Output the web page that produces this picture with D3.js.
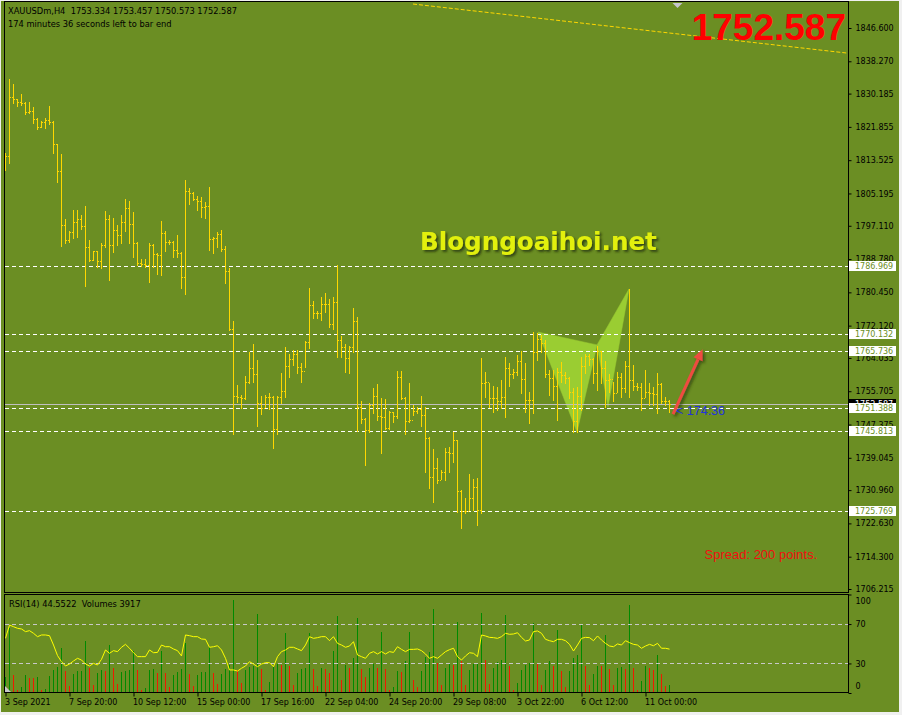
<!DOCTYPE html>
<html><head><meta charset="utf-8">
<script src="https://cdn.jsdelivr.net/npm/d3@7"></script>
<style>
html,body{margin:0;padding:0;background:#f0f0f0;overflow:hidden;}
svg{display:block;}
</style></head><body>
<svg id="c" width="902" height="715"></svg>
<script>
// ---------- DATA ----------
const opens = [
1814.0,1814.6,1829.3,1828.8,1828.1,1827.8,1825.6,1825.8,1823.8,1821.8,
1823.1,1823.6,1823.1,1817.6,1810.8,1797.3,1793.6,1795.6,1798.1,1798.8,
1797.1,1791.8,1788.6,1790.8,1788.3,1792.3,1798.8,1792.3,1796.1,1794.8,
1798.1,1801.6,1797.6,1792.8,1787.8,1787.5,1787.3,1792.3,1790.1,1789.8,
1795.3,1793.1,1793.1,1791.1,1790.3,1784.3,1805.8,1805.3,1803.8,1803.3,
1801.8,1802.1,1793.8,1794.0,1795.1,1791.3,1785.8,1771.3,1754.5,1754.3,
1754.0,1758.0,1761.5,1760.0,1752.8,1751.5,1754.3,1754.3,1746.3,1754.3,
1755.8,1762.0,1763.8,1765.0,1761.8,1760.8,1768.0,1777.3,1775.3,1775.3,
1777.5,1777.5,1772.5,1778.0,1768.5,1766.8,1764.0,1766.8,1773.3,1751.8,
1748.8,1746.0,1752.3,1754.5,1749.5,1749.3,1746.5,1750.5,1749.5,1759.3,
1754.0,1748.3,1748.5,1750.8,1751.3,1749.8,1744.0,1734.2,1736.5,1733.5,
1735.5,1740.5,1740.3,1743.5,1730.7,1725.7,1725.7,1729.0,1731.7,1726.0,
1757.8,1758.0,1754.0,1754.0,1753.3,1754.3,1761.5,1760.0,1760.5,1763.3,
1758.8,1753.5,1753.5,1765.5,1768.8,1767.8,1760.0,1759.0,1757.0,1760.5,
1759.8,1759.0,1755.5,1748.3,1754.5,1762.0,1764.5,1763.8,1760.3,1765.8,
1761.5,1758.5,1758.8,1755.3,1759.3,1756.5,1762.0,1758.5,1757.0,1756.8,
1754.0,1755.5,1755.3,1755.0,1757.5,1753.3,1753.334];
const highs = [
1815.3,1833.8,1832.6,1828.8,1830.1,1828.1,1828.1,1826.8,1824.1,1823.3,
1824.1,1827.1,1823.3,1817.6,1815.1,1798.8,1795.8,1801.1,1801.1,1799.8,
1802.1,1793.6,1790.8,1790.8,1792.8,1800.8,1799.8,1799.1,1797.3,1799.8,
1803.8,1803.3,1800.6,1793.1,1788.8,1788.8,1792.8,1792.6,1790.3,1798.3,
1795.8,1793.6,1793.3,1794.8,1790.6,1808.6,1806.6,1805.6,1804.6,1804.3,
1803.1,1806.8,1794.3,1795.6,1796.1,1792.1,1786.5,1773.3,1757.3,1754.8,
1759.5,1765.5,1767.5,1763.5,1754.5,1754.8,1755.3,1754.5,1754.5,1760.3,
1766.8,1765.0,1766.0,1766.0,1762.8,1768.3,1781.5,1778.3,1775.8,1779.3,
1780.3,1778.8,1779.3,1787.3,1769.5,1767.5,1767.0,1776.5,1774.3,1753.3,
1749.0,1752.8,1756.5,1757.5,1754.0,1753.8,1750.8,1750.5,1760.8,1760.8,
1754.3,1757.8,1752.3,1751.8,1754.5,1751.8,1744.3,1741.3,1739.0,1736.0,
1741.5,1741.8,1745.5,1743.5,1731.0,1729.0,1735.0,1733.7,1734.0,1764.0,
1760.5,1757.8,1757.0,1756.8,1758.5,1764.3,1762.8,1761.3,1764.8,1765.8,
1762.8,1755.5,1770.5,1770.3,1769.8,1768.5,1761.0,1761.0,1761.5,1763.0,
1760.5,1759.3,1756.5,1756.8,1764.3,1765.0,1765.0,1764.0,1767.0,1765.8,
1763.3,1760.0,1758.0,1760.5,1760.3,1763.3,1781.3,1762.3,1757.8,1757.8,
1761.0,1757.8,1756.8,1760.3,1757.8,1754.3,1753.457];
const lows = [
1811.1,1812.8,1827.8,1827.1,1827.3,1825.1,1825.3,1822.8,1821.3,1821.8,
1821.6,1822.6,1815.3,1808.1,1792.1,1792.8,1793.1,1794.1,1794.3,1796.3,
1782.0,1788.3,1788.6,1786.8,1786.5,1791.8,1783.5,1790.6,1792.3,1792.8,
1795.8,1792.8,1789.3,1787.3,1787.0,1786.8,1783.0,1786.8,1785.0,1784.8,
1790.8,1792.6,1789.3,1789.3,1781.5,1780.0,1802.6,1803.6,1801.1,1799.3,
1799.1,1791.1,1790.3,1791.8,1790.8,1782.8,1771.0,1745.0,1753.0,1751.5,
1753.8,1757.8,1758.0,1747.0,1750.0,1751.8,1751.3,1741.5,1745.0,1752.8,
1754.3,1759.3,1762.3,1760.3,1758.0,1761.8,1766.5,1774.0,1774.0,1773.5,
1775.5,1771.8,1771.3,1764.3,1764.3,1760.5,1760.3,1765.5,1745.8,1747.8,
1737.3,1745.5,1750.3,1748.5,1740.3,1746.3,1746.3,1748.0,1749.0,1753.8,
1745.0,1748.0,1749.8,1750.3,1747.0,1735.5,1731.5,1728.0,1732.7,1733.7,
1733.5,1735.5,1738.0,1725.5,1721.5,1725.2,1726.0,1726.0,1722.2,1725.2,
1754.3,1751.8,1750.5,1751.0,1751.5,1749.3,1757.0,1759.0,1759.8,1755.3,
1750.5,1747.8,1750.3,1763.5,1765.5,1759.3,1754.8,1753.5,1748.5,1758.0,
1757.8,1754.0,1745.5,1745.5,1751.0,1760.3,1762.3,1757.8,1756.0,1757.8,
1751.8,1755.5,1753.3,1755.5,1754.3,1755.5,1754.3,1756.0,1756.0,1751.0,
1754.3,1752.3,1752.3,1750.3,1752.8,1752.3,1750.573];
const closes = [
1814.6,1829.3,1828.8,1828.1,1827.8,1825.6,1825.8,1823.8,1821.8,1823.1,
1823.6,1823.1,1817.6,1810.8,1797.3,1793.6,1795.6,1798.1,1798.8,1797.1,
1791.8,1788.6,1790.8,1788.3,1792.3,1798.8,1792.3,1796.1,1794.8,1798.1,
1801.6,1797.6,1792.8,1787.8,1787.5,1787.3,1792.3,1790.1,1789.8,1795.3,
1793.1,1793.1,1791.1,1790.3,1784.3,1805.8,1805.3,1803.8,1803.3,1801.8,
1802.1,1793.8,1794.0,1795.1,1791.3,1785.8,1771.3,1754.5,1754.3,1754.0,
1758.0,1761.5,1760.0,1752.8,1751.5,1754.3,1754.3,1746.3,1754.3,1755.8,
1762.0,1763.8,1765.0,1761.8,1760.8,1768.0,1777.3,1775.3,1775.3,1777.5,
1777.5,1772.5,1778.0,1768.5,1766.8,1764.0,1766.8,1773.3,1751.8,1748.8,
1746.0,1752.3,1754.5,1749.5,1749.3,1746.5,1750.5,1749.5,1759.3,1754.0,
1748.3,1748.5,1750.8,1751.3,1749.8,1744.0,1734.2,1736.5,1733.5,1735.5,
1740.5,1740.3,1743.5,1730.7,1725.7,1725.7,1729.0,1731.7,1726.0,1757.8,
1758.0,1754.0,1754.0,1753.3,1754.3,1761.5,1760.0,1760.5,1763.3,1758.8,
1753.5,1753.5,1765.5,1768.8,1767.8,1760.0,1759.0,1757.0,1760.5,1759.8,
1759.0,1755.5,1748.3,1754.5,1762.0,1764.5,1763.8,1760.3,1765.8,1761.5,
1758.5,1758.8,1755.3,1759.3,1756.5,1762.0,1758.5,1757.0,1756.8,1754.0,
1755.5,1755.3,1755.0,1757.5,1753.3,1753.3,1752.587];
const volumes = [
8775,37050,9750,975,2925,9750,8190,8190,8775,1365,
1755,9165,12675,14625,25740,12090,3510,10725,12090,12285,
29640,14040,3900,11115,12675,12285,27300,14040,4485,11700,
12480,12675,23790,12675,1365,2535,13065,13455,11115,23790,
11115,2925,10140,11700,13455,28275,10335,3315,9750,11700,
11800,26325,11115,4485,10725,13650,15600,53235,13065,5265,
12675,14400,15015,45240,13260,1365,5850,14625,16185,15600,
34125,15015,3900,11115,13260,14040,34515,13455,3510,14235,
13260,11115,23985,44265,7215,15990,14235,19890,43290,13260,
8775,14040,16185,14235,35100,13650,1365,2925,12090,11900,
17940,35100,7215,2925,12285,20475,23400,48360,16965,3900,
14040,17000,15600,40950,18135,3900,12675,16185,16575,46215,
18525,4875,14040,17550,18525,45045,15015,1365,5265,12675,
15600,16965,40365,16965,4290,12675,18135,15015,36075,12090,
2925,12285,19500,21450,39390,15015,3900,10335,15015,15015,
33150,13260,3900,14235,14500,13455,50700,14235,975,6240,
15015,14235,12675,21450,10725,3315,3917];
const rsi = [
55.5,69,67.3,65.7,65,62.3,63.3,60.6,57.2,58.9,
58.9,58.2,48.7,38,31.8,27.4,29.4,32.5,35.2,33.5,
29.4,27.4,30.1,28.4,34.2,43.7,40.3,43,42,46.4,
49.4,45.4,40.9,36.9,36.9,36.9,43.7,40.9,41.2,48.7,
47,47,44.7,43,37.6,58.9,58.2,57.2,57.2,54.8,
54.5,46.4,47,48,43.7,35.2,23.4,23.4,22.3,25.1,
27.4,31.8,29.4,26.7,29.4,30.8,30.8,26.7,36.9,42,
43.7,46.4,46.4,44.7,43,48.7,57.2,55.5,56.2,57.2,
57.2,53.1,57.2,50.4,48.7,46.4,47.7,52.1,38.6,36.9,
35.2,40.3,42,39.6,42,39.6,42,41.2,47,44.3,
42,44.3,44.3,44.7,43,39.6,35.2,36.9,35.2,38.6,
42,44,45.4,36.9,33.5,37.6,40.9,40.3,36.9,58.9,
57.9,56.5,56.2,55.5,57.2,60.6,59.6,59.9,61.2,56.5,
52.8,53.8,62.3,63,60.6,54.5,53.1,52.1,54.5,54.5,
53.1,49.4,42.6,48.7,55.5,56.5,56.2,53.1,57.9,53.8,
50.4,47.7,47,49.8,48.7,53.1,51.1,49.4,48.7,45.4,
47.7,49.4,48,50.4,45.4,45.4,44.55];
const priceTicks = [1846.600,1838.270,1830.185,1821.855,1813.525,1805.195,1797.110,1788.780,1780.450,
  1772.120,1764.035,1755.705,1747.375,1739.045,1730.960,1722.630,1714.300,1706.215];
const levelPrices = [1786.969,1770.132,1765.736,1751.388,1745.813,1725.769];
const bidPrice = 1752.587;
const dateBars = [0,16,32,48,64,80,96,112,128,144,160];
const dateLabels = ["3 Sep 2021","7 Sep 20:00","10 Sep 12:00","15 Sep 00:00","17 Sep 16:00","22 Sep 04:00",
  "24 Sep 20:00","29 Sep 08:00","3 Oct 22:00","6 Oct 12:00","11 Oct 00:00"];
const rsiLevels = [100,70,30,0];
const rsiDashed = [70,30];
const trendLine = [[102,1852.6],[210.75,1840.3]];
const patternA = [[133.25,1770.5],[148,1767.3],[143,1745.5]];
const patternB = [[148,1767.3],[156,1781.3],[150.75,1751.8]];
const arrowPts = [[167,1750.0],[174.4,1766.2]];
const header1 = "XAUUSDm,H4  1753.334 1753.457 1750.573 1752.587";
const header2 = "174 minutes 36 seconds left to bar end";
const rsiHeader = "RSI(14) 44.5522  Volumes 3917";
const timerText = "< 174:36";
const spreadText = "Spread: 200 points.";
const watermark = "Blogngoaihoi.net";

// ---------- SCALES ----------
const n = closes.length;
const BG = "#6B8E23";
const x = d3.scaleLinear().domain([0, n-1]).range([5, 5 + 4*(n-1)]);
const y = d3.scaleLinear().domain([1706.215, 1846.600]).range([589, 28]);
const yr = d3.scaleLinear().domain([0, 100]).range([693, 594.5]);
const yv = d3.scaleLinear().domain([0, 57000]).range([692, 594]);
const FONT = "DejaVu Sans, Verdana, sans-serif";

const svg = d3.select("#c");
const defs = svg.append("defs");
defs.append("clipPath").attr("id","mainClip").append("rect").attr("x",5).attr("y",2).attr("width",843).attr("height",590);
defs.append("clipPath").attr("id","rsiClip").append("rect").attr("x",5).attr("y",595).attr("width",843).attr("height",97);
const f1 = defs.append("filter").attr("id","sh").attr("x","-10%").attr("y","-30%").attr("width","130%").attr("height","170%");
f1.append("feDropShadow").attr("dx",2).attr("dy",2).attr("stdDeviation",1.2).attr("flood-color","#2c3a08").attr("flood-opacity",0.85);
const f2 = defs.append("filter").attr("id","sh2").attr("x","-30%").attr("y","-30%").attr("width","160%").attr("height","160%");
f2.append("feDropShadow").attr("dx",2).attr("dy",2).attr("stdDeviation",1.5).attr("flood-color","#2c3a08").attr("flood-opacity",0.8);

// background
svg.append("rect").attr("x",0).attr("y",0).attr("width",902).attr("height",715).attr("fill","#f0f0f0");
svg.append("rect").attr("x",1).attr("y",1).attr("width",898).attr("height",711).attr("fill",BG);

// ---------- MAIN PANEL ----------
const main = svg.append("g").attr("clip-path","url(#mainClip)");

const pt = d => [x(d[0]), y(d[1])];
[patternA, patternB].forEach(p => {
  main.append("polygon").attr("points", p.map(d => pt(d).join(",")).join(" "))
    .attr("fill","#9ACD32").attr("stroke","#9ACD32").attr("stroke-width",0.5);
});

main.append("line")
  .attr("x1", x(trendLine[0][0])).attr("y1", y(trendLine[0][1]))
  .attr("x2", x(trendLine[1][0])).attr("y2", y(trendLine[1][1]))
  .attr("stroke","#FFD700").attr("stroke-width",1).attr("stroke-dasharray","4,2");

main.selectAll("line.lvl").data(levelPrices).join("line").attr("class","lvl")
  .attr("x1",5).attr("x2",848)
  .attr("y1", d => Math.round(y(d)) + 0.5).attr("y2", d => Math.round(y(d)) + 0.5)
  .attr("stroke","#ffffff").attr("stroke-width",1).attr("stroke-dasharray","4,3")
  .attr("shape-rendering","crispEdges");

main.append("line").attr("x1",5).attr("x2",848)
  .attr("y1", Math.round(y(bidPrice)) + 0.5).attr("y2", Math.round(y(bidPrice)) + 0.5)
  .attr("stroke","#C0C0C0").attr("stroke-width",1).attr("shape-rendering","crispEdges");

const idx = d3.range(n);
const bars = main.append("g").attr("fill","#FFD700").attr("shape-rendering","crispEdges");
bars.selectAll("rect.hl").data(idx).join("rect").attr("class","hl")
  .attr("x", i => x(i)).attr("width",1)
  .attr("y", i => Math.round(y(highs[i])))
  .attr("height", i => Math.max(1, Math.round(y(lows[i])) - Math.round(y(highs[i])) + 1));
bars.selectAll("rect.op").data(idx).join("rect").attr("class","op")
  .attr("x", i => x(i) - 1).attr("width",1).attr("height",1)
  .attr("y", i => Math.round(y(opens[i])));
bars.selectAll("rect.cl").data(idx).join("rect").attr("class","cl")
  .attr("x", i => x(i) + 1).attr("width",1).attr("height",1)
  .attr("y", i => Math.round(y(closes[i])));

// red arrow
(function(){
  const p0 = pt(arrowPts[0]), p1 = pt(arrowPts[1]);
  const dx = p1[0]-p0[0], dy = p1[1]-p0[1], L = Math.hypot(dx,dy);
  const ux = dx/L, uy = dy/L, nx = -uy, ny = ux;
  const bx = p1[0]-ux*11, by = p1[1]-uy*11;
  const g = main.append("g").attr("filter","url(#sh2)");
  g.append("line").attr("x1",p0[0]).attr("y1",p0[1]).attr("x2",bx).attr("y2",by)
    .attr("stroke","#EE4B40").attr("stroke-width",3);
  g.append("polygon").attr("points",[[p1[0],p1[1]],[bx+nx*5,by+ny*5],[bx-nx*5,by-ny*5]].map(d=>d.join(",")).join(" "))
    .attr("fill","#EE4B40");
})();

svg.append("text").attr("x",676).attr("y",414.5).text(timerText)
  .attr("font-family","Liberation Sans, Arial, sans-serif").attr("font-size",12.5).attr("fill","#2233DD")
  .style("white-space","pre");

svg.append("text").attr("x",420).attr("y",250).text(watermark)
  .attr("font-family",FONT).attr("font-weight","bold").attr("font-size",24.6)
  .attr("fill","#E2F00A").attr("filter","url(#sh)");

svg.append("text").attr("x",846).attr("y",39.5).attr("text-anchor","end").text(bidPrice.toFixed(3))
  .attr("font-family","Liberation Sans, Arial, sans-serif").attr("font-weight","bold").attr("font-size",37)
  .attr("fill","#FF0000");

svg.append("text").attr("x",704.5).attr("y",559).text(spreadText)
  .attr("font-family","Liberation Sans, Arial, sans-serif").attr("font-size",13).attr("fill","#F01010");

// chart-shift marker
(function(){
  const cx = x(n+1) + 0.5;
  svg.append("polygon").attr("points",`${cx-5},3 ${cx+5},3 ${cx},8`).attr("fill","#C4C4CC");
})();

svg.append("text").attr("x",8).attr("y",14.3).text(header1)
  .attr("font-family",FONT).attr("font-size",8.3).attr("fill","#000").style("white-space","pre");
svg.append("text").attr("x",8).attr("y",26.7).text(header2)
  .attr("font-family",FONT).attr("font-size",8.3).attr("fill","#000");

// frames
svg.append("rect").attr("x",4.5).attr("y",1.5).attr("width",844).attr("height",591)
  .attr("fill","none").attr("stroke","#000").attr("shape-rendering","crispEdges");
svg.append("rect").attr("x",4.5).attr("y",594.5).attr("width",844).attr("height",98)
  .attr("fill","none").attr("stroke","#000").attr("shape-rendering","crispEdges");

// price axis
const yAxis = d3.axisRight(y).tickValues(priceTicks).tickSize(3).tickPadding(4).tickFormat(d3.format(".3f"));
const ya = svg.append("g").attr("transform","translate(848.5,0)").call(yAxis);
ya.select(".domain").remove();
ya.selectAll(".tick line").attr("stroke","#000");
ya.selectAll(".tick text").attr("font-family",FONT).attr("font-size",8).attr("fill","#000").attr("dy","0.32em");

// bid label
svg.append("rect").attr("x",849).attr("y",Math.round(y(bidPrice))-5).attr("width",47).attr("height",10).attr("fill","#000");
svg.append("text").attr("x",855).attr("y",Math.round(y(bidPrice))+3).text(bidPrice.toFixed(3))
  .attr("font-family",FONT).attr("font-size",8).attr("fill","#ffffff");

// level labels
const lv = svg.append("g");
lv.selectAll("rect").data(levelPrices).join("rect")
  .attr("x",849).attr("y", d => Math.round(y(d)) - 5).attr("width",47).attr("height",10).attr("fill","#ffffff");
lv.selectAll("text").data(levelPrices).join("text")
  .attr("x",855).attr("y", d => Math.round(y(d)) + 3).text(d => d.toFixed(3))
  .attr("font-family",FONT).attr("font-size",8).attr("fill",BG);

// ---------- RSI / VOLUMES PANEL ----------
const sub = svg.append("g").attr("clip-path","url(#rsiClip)");
sub.selectAll("rect.vol").data(idx).join("rect").attr("class","vol")
  .attr("x", i => x(i)).attr("width",1)
  .attr("y", i => Math.round(yv(volumes[i])))
  .attr("height", i => 692 - Math.round(yv(volumes[i])))
  .attr("fill", i => (i === 0 || volumes[i] > volumes[i-1]) ? "#008A00" : "#EE1A00")
  .attr("shape-rendering","crispEdges");

sub.append("polygon").attr("points","5,686 5,692 11,692").attr("fill","#C8C8C8");

sub.selectAll("line.rl").data(rsiDashed).join("line").attr("class","rl")
  .attr("x1",5).attr("x2",848)
  .attr("y1", d => Math.round(yr(d)) + 0.5).attr("y2", d => Math.round(yr(d)) + 0.5)
  .attr("stroke","#C8C8C8").attr("stroke-dasharray","4,3").attr("shape-rendering","crispEdges");

sub.append("path").datum(rsi)
  .attr("d", d3.line().x((d,i) => x(i) + 0.5).y(d => yr(d)))
  .attr("fill","none").attr("stroke","#FFFF00").attr("stroke-width",1);

svg.append("text").attr("x",9).attr("y",606.7).text(rsiHeader)
  .attr("font-family",FONT).attr("font-size",8.3).attr("fill","#000").style("white-space","pre");

const rAxis = d3.axisRight(yr).tickValues(rsiLevels).tickSize(3).tickPadding(4).tickFormat(d3.format("d"));
const ra = svg.append("g").attr("transform","translate(848.5,0)").call(rAxis);
ra.select(".domain").remove();
ra.selectAll(".tick line").attr("stroke","#000");
ra.selectAll(".tick text").attr("font-family",FONT).attr("font-size",8).attr("fill","#000").attr("dy","0.32em")
  .attr("y", d => Math.max(601, Math.min(685.5, yr(d))) - yr(d));

// date axis
const xAxis = d3.axisBottom(x).tickValues(dateBars).tickSize(4).tickPadding(0).tickFormat((d,i) => dateLabels[i]);
const xa = svg.append("g").attr("transform","translate(0.5,692.5)").call(xAxis);
xa.select(".domain").remove();
xa.selectAll(".tick line").attr("stroke","#000");
xa.selectAll(".tick text").attr("font-family",FONT).attr("font-size",8).attr("fill","#000")
  .attr("text-anchor","start").attr("x",-1).attr("y",12).attr("dy",null);
</script>
</body></html>
